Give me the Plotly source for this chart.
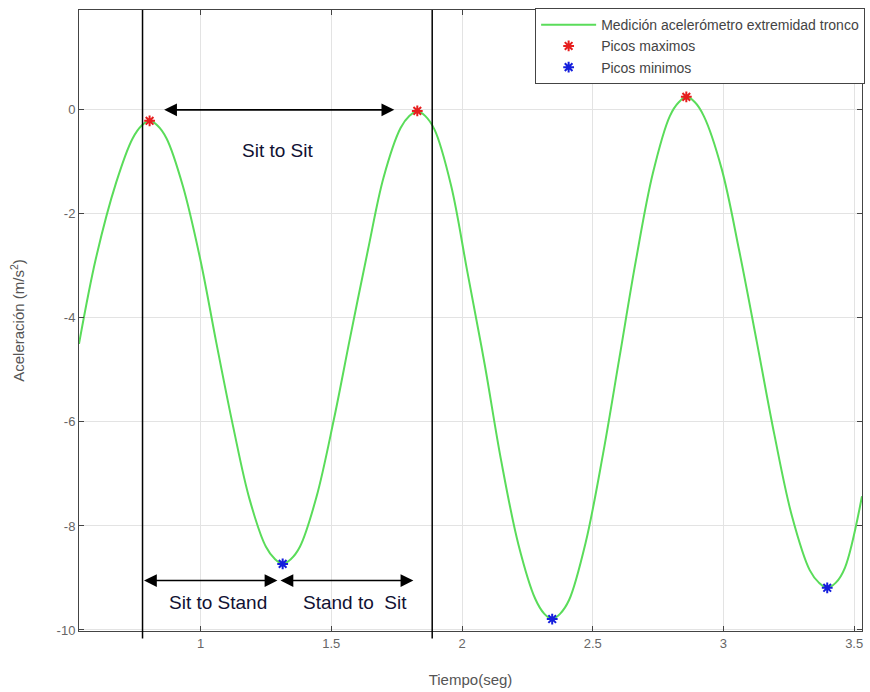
import plotly.graph_objects as go

# Curve samples
t_curve = [0.535, 0.60, 0.677, 0.74, 0.775, 0.805, 0.835, 0.87, 0.932, 1.00, 1.060, 1.125, 1.187, 1.25, 1.285,
           1.314, 1.345, 1.38, 1.443, 1.51, 1.572, 1.64, 1.700, 1.765, 1.80, 1.829, 1.86, 1.895, 1.958, 2.02,
           2.087, 2.15, 2.216, 2.28, 2.315, 2.345, 2.375, 2.41, 2.473, 2.54, 2.602, 2.665, 2.730, 2.795, 2.83,
           2.858, 2.89, 2.925, 2.993, 3.06, 3.128, 3.195, 3.262, 3.33, 3.365, 3.397, 3.43, 3.465, 3.53]
a_curve = [-4.50, -2.85, -1.40, -0.55, -0.30, -0.21, -0.30, -0.55, -1.46, -2.90, -4.47, -6.10, -7.48, -8.40, -8.64,
           -8.73, -8.64, -8.40, -7.45, -5.95, -4.38, -2.70, -1.30, -0.35, -0.11, -0.02, -0.12, -0.38, -1.45, -3.10,
           -4.90, -6.75, -8.36, -9.40, -9.69, -9.79, -9.69, -9.42, -8.32, -6.60, -4.77, -2.90, -1.22, -0.12, 0.15,
           0.25, 0.15, -0.12, -1.13, -2.70, -4.47, -6.25, -7.81, -8.85, -9.09, -9.19, -9.09, -8.80, -7.43]

t_max = [0.805, 1.829, 2.858]
a_max = [-0.21, -0.02, 0.25]
t_min = [1.314, 2.345, 3.397]
a_min = [-8.73, -9.79, -9.19]

t_vlines = [0.778, 1.886]

# arrows: (x_start, x_end, y)
arrows = [(0.855, 1.741, 0.0), (0.778, 1.294, -9.05), (1.300, 1.814, -9.05)]
labels = [("Sit to Sit", 1.294, -0.78), ("Sit to Stand", 1.065, -9.48), ("Stand to  Sit", 1.590, -9.48)]

xticks = [1, 1.5, 2, 2.5, 3, 3.5]
yticks = [0, -2, -4, -6, -8, -10]

fig = go.Figure()
fig.add_trace(go.Scatter(x=t_curve, y=a_curve, mode="lines",
                         line=dict(color="rgb(90,220,90)", width=2, shape="spline", smoothing=1.0),
                         name="Medición acelerómetro extremidad tronco"))
fig.add_trace(go.Scatter(x=t_max, y=a_max, mode="markers",
                         marker=dict(symbol="asterisk-open", size=9, color="rgb(230,30,30)",
                                     line=dict(color="rgb(230,30,30)", width=2)),
                         name="Picos maximos"))
fig.add_trace(go.Scatter(x=t_min, y=a_min, mode="markers",
                         marker=dict(symbol="asterisk-open", size=9, color="rgb(20,30,220)",
                                     line=dict(color="rgb(20,30,220)", width=2)),
                         name="Picos minimos"))

for xv in t_vlines:
    fig.add_shape(type="line", xref="x", yref="paper", x0=xv, x1=xv, y0=-0.012, y1=1.0,
                  line=dict(color="black", width=1.5))

for x0, x1, y in arrows:
    fig.add_annotation(x=x1, y=y, ax=x0, ay=y, xref="x", yref="y", axref="x", ayref="y",
                       text="", showarrow=True, arrowhead=2, startarrowhead=2, arrowside="end+start",
                       arrowsize=1.6, startarrowsize=1.6, arrowwidth=1.6, arrowcolor="black")
for txt, x, y in labels:
    fig.add_annotation(x=x, y=y, xref="x", yref="y", text=txt, showarrow=False,
                       font=dict(family="Liberation Sans, Arial", size=19, color="#111133"))

fig.update_layout(
    width=870, height=692,
    margin=dict(l=79, r=5, t=10, b=61),
    paper_bgcolor="white", plot_bgcolor="white",
    font=dict(family="Liberation Sans, Arial", size=13, color="#666666"),
    showlegend=True,
    legend=dict(x=1.004, xanchor="right", y=1.003, yanchor="top", bgcolor="white",
                bordercolor="#444444", borderwidth=1, font=dict(size=14, color="#444444"),
                tracegroupgap=0, itemwidth=55),
    xaxis=dict(range=[0.535, 3.53], tickvals=xticks, ticktext=[str(v) for v in xticks],
               showgrid=True, gridcolor="#e3e3e3", zeroline=False, showline=True, linecolor="#444444",
               mirror="allticks", ticks="inside", ticklen=5, tickcolor="#444444",
               title=dict(text="Tiempo(seg)", font=dict(size=15, color="#555555"), standoff=24)),
    yaxis=dict(range=[-10.02, 1.92], tickvals=yticks, ticktext=[str(v) for v in yticks],
               showgrid=True, gridcolor="#e3e3e3", zeroline=False, showline=True, linecolor="#444444",
               mirror="allticks", ticks="inside", ticklen=5, tickcolor="#444444",
               title=dict(text="Aceleración (m/s<sup>2</sup>)", font=dict(size=15, color="#555555"), standoff=28)),
)

fig.write_html("out.html")
